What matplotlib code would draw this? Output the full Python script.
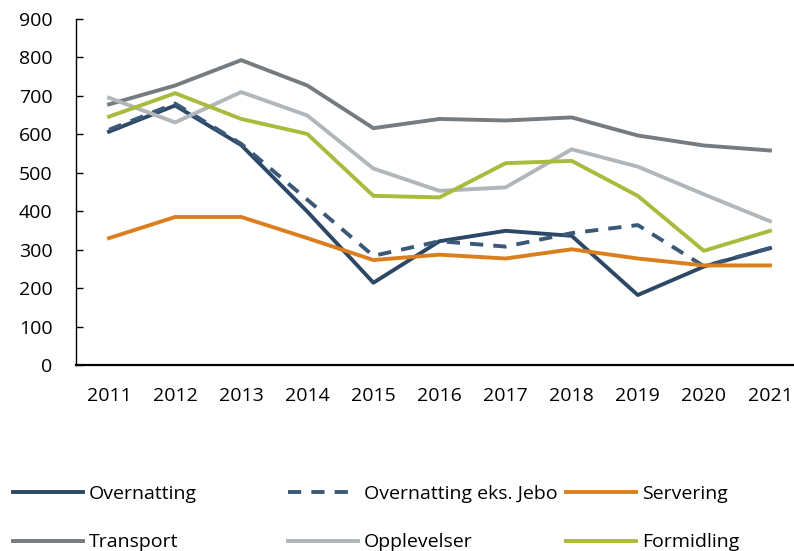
import matplotlib
matplotlib.use("Agg")
import matplotlib.pyplot as plt

years = ["2011", "2012", "2013", "2014", "2015", "2016", "2017", "2018", "2019", "2020", "2021"]

overnatting = [607, 675, 572, 399, 214, 322, 349, 336, 182, 256, 304]
overnatting_eks_jebo = [612, 680, 575, 430, 284, 322, 308, 343, 364, 257, 304]
servering = [330, 385, 385, 330, 273, 287, 277, 301, 277, 259, 259]
transport = [678, 727, 793, 727, 616, 640, 636, 644, 597, 571, 558]
opplevelser = [695, 631, 710, 649, 511, 453, 462, 561, 516, 444, 374]
formidling = [646, 707, 640, 601, 440, 436, 525, 531, 440, 297, 349]

plt.rcParams['font.family'] = ['Open Sans', 'DejaVu Sans']

fig = plt.figure(figsize=(7.94, 5.51), dpi=100)
# axes placed in pixels: left 76, right 803 (past the edge), top 19, bottom 365
ax = fig.add_axes([76 / 794, 1 - 365 / 551, (803 - 76) / 794, (365 - 19) / 551])

x = range(len(years))
lw = 2.8
l1, = ax.plot(x, overnatting, color="#2D4866", lw=lw, label="Overnatting")
l2, = ax.plot(x, overnatting_eks_jebo, color="#3A5878", lw=lw, ls=(0, (3.4, 2.6)),
              label="Overnatting eks. Jebo")
l3, = ax.plot(x, servering, color="#DB7E1D", lw=lw, label="Servering")
l4, = ax.plot(x, transport, color="#767B80", lw=lw, label="Transport")
l5, = ax.plot(x, opplevelser, color="#B1B6BA", lw=lw, label="Opplevelser")
l6, = ax.plot(x, formidling, color="#A9BA3C", lw=lw, label="Formidling")

ax.set_xlim(-0.5, 10.5)
ax.set_ylim(0, 900)
ax.set_yticks(range(0, 901, 100))
ax.set_xticks(list(x))
ax.set_xticklabels(years)

for s in ["top", "right"]:
    ax.spines[s].set_visible(False)
ax.spines["left"].set_linewidth(1.0)
ax.spines["bottom"].set_linewidth(1.6)
ax.tick_params(axis="y", direction="in", length=5, width=1, pad=17, labelsize=14)
ax.tick_params(axis="x", length=0, pad=15.5, labelsize=14)

# three one-column legends so the columns sit at fixed spots like the original
cols = [([l1, l4], 13), ([l2, l5], 288), ([l3, l6], 566)]
for handles, px in cols:
    leg = fig.legend(handles=handles, loc="upper left",
                     bbox_to_anchor=(px / 794, 1 - 485 / 551),
                     frameon=False, fontsize=14, handlelength=3.6,
                     handletextpad=0.3, labelspacing=1.56, borderaxespad=0,
                     borderpad=0)

fig.savefig("out.png", dpi=100)
